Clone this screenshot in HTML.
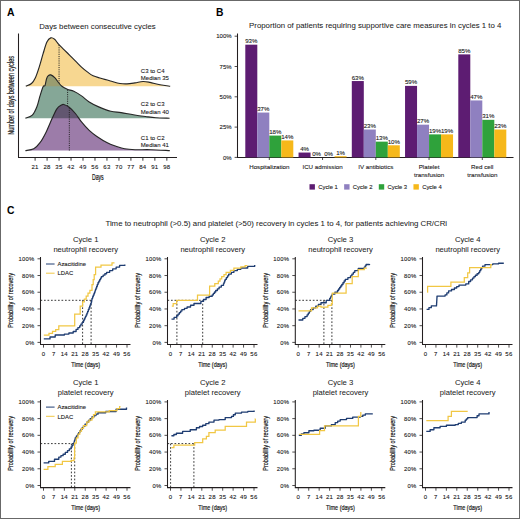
<!DOCTYPE html>
<html><head><meta charset="utf-8"><style>
html,body{margin:0;padding:0;background:#fff;}
body{width:520px;height:519px;overflow:hidden;}
svg{display:block;font-family:"Liberation Sans", sans-serif;}
</style></head><body>
<svg width="520" height="519" viewBox="0 0 520 519">
<rect x="0" y="0" width="520" height="519" fill="#fff"/>
<text x="7" y="15.6" font-size="10.4" text-anchor="start" font-weight="bold" fill="#000"  >A</text>
<text x="39.2" y="28.5" font-size="7.8" text-anchor="start" font-weight="normal" fill="#1a1a1a" stroke="#1a1a1a" stroke-width="0.04" >Days between consecutive cycles</text>
<defs>
<clipPath id="cy"><rect x="0" y="0" width="200" height="86.2"/></clipPath>
<clipPath id="cg"><rect x="0" y="0" width="200" height="118.2"/></clipPath>
</defs>
<path d="M25.8,86.2 C26.75,85.75 29.9,84.92 31.5,83.5 C33.1,82.08 34.12,80.43 35.4,77.7 C36.68,74.97 37.92,71.1 39.2,67.1 C40.48,63.1 41.82,57.87 43.1,53.7 C44.38,49.53 45.62,44.73 46.9,42.1 C48.18,39.47 49.52,38.37 50.8,37.9 C52.08,37.43 53.32,38.27 54.6,39.3 C55.88,40.33 56.9,42.35 58.5,44.1 C60.1,45.85 62.28,47.88 64.2,49.8 C66.12,51.72 68.07,53.67 70,55.6 C71.93,57.53 73.88,59.48 75.8,61.4 C77.72,63.32 79.58,65.35 81.5,67.1 C83.42,68.85 85.37,70.45 87.3,71.9 C89.23,73.35 90.85,74.73 93.1,75.8 C95.35,76.87 97.92,77.43 100.8,78.3 C103.68,79.17 107.2,80.13 110.4,81 C113.6,81.87 117.23,83.02 120,83.5 C122.77,83.98 124.5,84 127,83.9 C129.5,83.8 132.33,83.3 135,82.9 C137.67,82.5 140.5,81.58 143,81.5 C145.5,81.42 147.17,81.85 150,82.4 C152.83,82.95 156.63,84.17 160,84.8 C163.37,85.43 168.5,85.97 170.2,86.2 V86.2 H25.8 Z" fill="#f7d791"/>
<path d="M25.8,86.2 C26.75,85.75 29.9,84.92 31.5,83.5 C33.1,82.08 34.12,80.43 35.4,77.7 C36.68,74.97 37.92,71.1 39.2,67.1 C40.48,63.1 41.82,57.87 43.1,53.7 C44.38,49.53 45.62,44.73 46.9,42.1 C48.18,39.47 49.52,38.37 50.8,37.9 C52.08,37.43 53.32,38.27 54.6,39.3 C55.88,40.33 56.9,42.35 58.5,44.1 C60.1,45.85 62.28,47.88 64.2,49.8 C66.12,51.72 68.07,53.67 70,55.6 C71.93,57.53 73.88,59.48 75.8,61.4 C77.72,63.32 79.58,65.35 81.5,67.1 C83.42,68.85 85.37,70.45 87.3,71.9 C89.23,73.35 90.85,74.73 93.1,75.8 C95.35,76.87 97.92,77.43 100.8,78.3 C103.68,79.17 107.2,80.13 110.4,81 C113.6,81.87 117.23,83.02 120,83.5 C122.77,83.98 124.5,84 127,83.9 C129.5,83.8 132.33,83.3 135,82.9 C137.67,82.5 140.5,81.58 143,81.5 C145.5,81.42 147.17,81.85 150,82.4 C152.83,82.95 156.63,84.17 160,84.8 C163.37,85.43 168.5,85.97 170.2,86.2" fill="none" stroke="#262626" stroke-width="1.15"/>
<line x1="59.05" y1="45" x2="59.05" y2="86.2" stroke="#222" stroke-width="0.95" stroke-dasharray="1.1,1.1"/>
<path d="M25.4,118.2 C26.55,117.68 30.38,117.02 32.3,115.1 C34.22,113.18 35.62,109.9 36.9,106.7 C38.18,103.5 38.97,99.23 40,95.9 C41.03,92.57 42.27,88.43 43.1,86.7 C43.93,84.97 44.43,86.78 45,85.5 C45.57,84.22 45.98,80.6 46.5,79 C47.02,77.4 47.38,76.58 48.1,75.9 C48.82,75.22 49.65,74.58 50.8,74.9 C51.95,75.22 53.78,76.62 55,77.8 C56.22,78.98 56.95,80.58 58.1,82 C59.25,83.42 60.37,85.08 61.9,86.3 C63.43,87.52 65.32,88.47 67.3,89.3 C69.28,90.13 71.43,90.2 73.8,91.3 C76.17,92.4 78.93,94.12 81.5,95.9 C84.07,97.68 86.33,100.17 89.2,102 C92.07,103.83 95.1,105.35 98.7,106.9 C102.3,108.45 107.07,110.35 110.8,111.3 C114.53,112.25 117.35,112.03 121.1,112.6 C124.85,113.17 129.25,114.05 133.3,114.7 C137.35,115.35 141.67,115.98 145.4,116.5 C149.13,117.02 151.67,117.52 155.7,117.8 C159.73,118.08 167.28,118.13 169.6,118.2 V118.2 H25.4 Z" fill="#85a797"/>
<path d="M25.4,118.2 C26.55,117.68 30.38,117.02 32.3,115.1 C34.22,113.18 35.62,109.9 36.9,106.7 C38.18,103.5 38.97,99.23 40,95.9 C41.03,92.57 42.27,88.43 43.1,86.7 C43.93,84.97 44.43,86.78 45,85.5 C45.57,84.22 45.98,80.6 46.5,79 C47.02,77.4 47.38,76.58 48.1,75.9 C48.82,75.22 49.65,74.58 50.8,74.9 C51.95,75.22 53.78,76.62 55,77.8 C56.22,78.98 56.95,80.58 58.1,82 C59.25,83.42 60.37,85.08 61.9,86.3 C63.43,87.52 65.32,88.47 67.3,89.3 C69.28,90.13 71.43,90.2 73.8,91.3 C76.17,92.4 78.93,94.12 81.5,95.9 C84.07,97.68 86.33,100.17 89.2,102 C92.07,103.83 95.1,105.35 98.7,106.9 C102.3,108.45 107.07,110.35 110.8,111.3 C114.53,112.25 117.35,112.03 121.1,112.6 C124.85,113.17 129.25,114.05 133.3,114.7 C137.35,115.35 141.67,115.98 145.4,116.5 C149.13,117.02 151.67,117.52 155.7,117.8 C159.73,118.08 167.28,118.13 169.6,118.2 V118.2 H25.4 Z" fill="#9a9d70" clip-path="url(#cy)"/>
<path d="M25.4,118.2 C26.55,117.68 30.38,117.02 32.3,115.1 C34.22,113.18 35.62,109.9 36.9,106.7 C38.18,103.5 38.97,99.23 40,95.9 C41.03,92.57 42.27,88.43 43.1,86.7 C43.93,84.97 44.43,86.78 45,85.5 C45.57,84.22 45.98,80.6 46.5,79 C47.02,77.4 47.38,76.58 48.1,75.9 C48.82,75.22 49.65,74.58 50.8,74.9 C51.95,75.22 53.78,76.62 55,77.8 C56.22,78.98 56.95,80.58 58.1,82 C59.25,83.42 60.37,85.08 61.9,86.3 C63.43,87.52 65.32,88.47 67.3,89.3 C69.28,90.13 71.43,90.2 73.8,91.3 C76.17,92.4 78.93,94.12 81.5,95.9 C84.07,97.68 86.33,100.17 89.2,102 C92.07,103.83 95.1,105.35 98.7,106.9 C102.3,108.45 107.07,110.35 110.8,111.3 C114.53,112.25 117.35,112.03 121.1,112.6 C124.85,113.17 129.25,114.05 133.3,114.7 C137.35,115.35 141.67,115.98 145.4,116.5 C149.13,117.02 151.67,117.52 155.7,117.8 C159.73,118.08 167.28,118.13 169.6,118.2" fill="none" stroke="#262626" stroke-width="1.15"/>
<line x1="67.61" y1="89.7" x2="67.61" y2="118.2" stroke="#222" stroke-width="0.95" stroke-dasharray="1.1,1.1"/>
<path d="M25.4,150.6 C26.8,150.3 31.37,150.12 33.8,148.8 C36.23,147.48 37.93,145.52 40,142.7 C42.07,139.88 44.15,136 46.2,131.9 C48.25,127.8 50.52,121.95 52.3,118.1 C54.08,114.25 55.37,110.98 56.9,108.8 C58.43,106.62 60.35,105.72 61.5,105 C62.65,104.28 62.52,104.12 63.8,104.5 C65.08,104.88 67.27,105.8 69.2,107.3 C71.13,108.8 73.35,111.07 75.4,113.5 C77.45,115.93 79.2,119.08 81.5,121.9 C83.8,124.72 86.63,127.97 89.2,130.4 C91.77,132.83 93.88,134.43 96.9,136.5 C99.92,138.57 104.12,141.18 107.3,142.8 C110.48,144.42 113.12,145.2 116,146.2 C118.88,147.2 121.43,148.22 124.6,148.8 C127.77,149.38 130.67,149.55 135,149.7 C139.33,149.85 144.8,149.55 150.6,149.7 C156.4,149.85 166.6,150.45 169.8,150.6 V150.6 H25.4 Z" fill="#9c7ca9"/>
<path d="M25.4,150.6 C26.8,150.3 31.37,150.12 33.8,148.8 C36.23,147.48 37.93,145.52 40,142.7 C42.07,139.88 44.15,136 46.2,131.9 C48.25,127.8 50.52,121.95 52.3,118.1 C54.08,114.25 55.37,110.98 56.9,108.8 C58.43,106.62 60.35,105.72 61.5,105 C62.65,104.28 62.52,104.12 63.8,104.5 C65.08,104.88 67.27,105.8 69.2,107.3 C71.13,108.8 73.35,111.07 75.4,113.5 C77.45,115.93 79.2,119.08 81.5,121.9 C83.8,124.72 86.63,127.97 89.2,130.4 C91.77,132.83 93.88,134.43 96.9,136.5 C99.92,138.57 104.12,141.18 107.3,142.8 C110.48,144.42 113.12,145.2 116,146.2 C118.88,147.2 121.43,148.22 124.6,148.8 C127.77,149.38 130.67,149.55 135,149.7 C139.33,149.85 144.8,149.55 150.6,149.7 C156.4,149.85 166.6,150.45 169.8,150.6 V150.6 H25.4 Z" fill="#625670" clip-path="url(#cg)"/>
<path d="M25.4,150.6 C26.8,150.3 31.37,150.12 33.8,148.8 C36.23,147.48 37.93,145.52 40,142.7 C42.07,139.88 44.15,136 46.2,131.9 C48.25,127.8 50.52,121.95 52.3,118.1 C54.08,114.25 55.37,110.98 56.9,108.8 C58.43,106.62 60.35,105.72 61.5,105 C62.65,104.28 62.52,104.12 63.8,104.5 C65.08,104.88 67.27,105.8 69.2,107.3 C71.13,108.8 73.35,111.07 75.4,113.5 C77.45,115.93 79.2,119.08 81.5,121.9 C83.8,124.72 86.63,127.97 89.2,130.4 C91.77,132.83 93.88,134.43 96.9,136.5 C99.92,138.57 104.12,141.18 107.3,142.8 C110.48,144.42 113.12,145.2 116,146.2 C118.88,147.2 121.43,148.22 124.6,148.8 C127.77,149.38 130.67,149.55 135,149.7 C139.33,149.85 144.8,149.55 150.6,149.7 C156.4,149.85 166.6,150.45 169.8,150.6" fill="none" stroke="#262626" stroke-width="1.15"/>
<line x1="69.32" y1="107.6" x2="69.32" y2="150.6" stroke="#222" stroke-width="0.95" stroke-dasharray="1.1,1.1"/>
<text x="140.8" y="72.5" font-size="6" text-anchor="start" font-weight="normal" fill="#1a1a1a" stroke="#1a1a1a" stroke-width="0.1" >C3 to C4</text>
<text x="140.8" y="79.7" font-size="6" text-anchor="start" font-weight="normal" fill="#1a1a1a" stroke="#1a1a1a" stroke-width="0.1" >Median 35</text>
<text x="140.8" y="106.4" font-size="6" text-anchor="start" font-weight="normal" fill="#1a1a1a" stroke="#1a1a1a" stroke-width="0.1" >C2 to C3</text>
<text x="140.8" y="113.6" font-size="6" text-anchor="start" font-weight="normal" fill="#1a1a1a" stroke="#1a1a1a" stroke-width="0.1" >Median 40</text>
<text x="140.8" y="139.7" font-size="6" text-anchor="start" font-weight="normal" fill="#1a1a1a" stroke="#1a1a1a" stroke-width="0.1" >C1 to C2</text>
<text x="140.8" y="146.9" font-size="6" text-anchor="start" font-weight="normal" fill="#1a1a1a" stroke="#1a1a1a" stroke-width="0.1" >Median 41</text>
<path d="M18.5,33.5 V157.5 H177" fill="none" stroke="#231f20" stroke-width="1.05"/>
<line x1="35.1" y1="157.7" x2="35.1" y2="160.7" stroke="#231f20" stroke-width="0.9"/>
<text x="35.1" y="168.9" font-size="6" text-anchor="middle" font-weight="normal" fill="#1a1a1a" stroke="#1a1a1a" stroke-width="0.1" letter-spacing="0.35">21</text>
<line x1="47.08" y1="157.7" x2="47.08" y2="160.7" stroke="#231f20" stroke-width="0.9"/>
<text x="47.08" y="168.9" font-size="6" text-anchor="middle" font-weight="normal" fill="#1a1a1a" stroke="#1a1a1a" stroke-width="0.1" letter-spacing="0.35">28</text>
<line x1="59.05" y1="157.7" x2="59.05" y2="160.7" stroke="#231f20" stroke-width="0.9"/>
<text x="59.05" y="168.9" font-size="6" text-anchor="middle" font-weight="normal" fill="#1a1a1a" stroke="#1a1a1a" stroke-width="0.1" letter-spacing="0.35">35</text>
<line x1="71.03" y1="157.7" x2="71.03" y2="160.7" stroke="#231f20" stroke-width="0.9"/>
<text x="71.03" y="168.9" font-size="6" text-anchor="middle" font-weight="normal" fill="#1a1a1a" stroke="#1a1a1a" stroke-width="0.1" letter-spacing="0.35">42</text>
<line x1="83.01" y1="157.7" x2="83.01" y2="160.7" stroke="#231f20" stroke-width="0.9"/>
<text x="83.01" y="168.9" font-size="6" text-anchor="middle" font-weight="normal" fill="#1a1a1a" stroke="#1a1a1a" stroke-width="0.1" letter-spacing="0.35">49</text>
<line x1="94.99" y1="157.7" x2="94.99" y2="160.7" stroke="#231f20" stroke-width="0.9"/>
<text x="94.99" y="168.9" font-size="6" text-anchor="middle" font-weight="normal" fill="#1a1a1a" stroke="#1a1a1a" stroke-width="0.1" letter-spacing="0.35">56</text>
<line x1="106.96" y1="157.7" x2="106.96" y2="160.7" stroke="#231f20" stroke-width="0.9"/>
<text x="106.96" y="168.9" font-size="6" text-anchor="middle" font-weight="normal" fill="#1a1a1a" stroke="#1a1a1a" stroke-width="0.1" letter-spacing="0.35">63</text>
<line x1="118.94" y1="157.7" x2="118.94" y2="160.7" stroke="#231f20" stroke-width="0.9"/>
<text x="118.94" y="168.9" font-size="6" text-anchor="middle" font-weight="normal" fill="#1a1a1a" stroke="#1a1a1a" stroke-width="0.1" letter-spacing="0.35">70</text>
<line x1="130.92" y1="157.7" x2="130.92" y2="160.7" stroke="#231f20" stroke-width="0.9"/>
<text x="130.92" y="168.9" font-size="6" text-anchor="middle" font-weight="normal" fill="#1a1a1a" stroke="#1a1a1a" stroke-width="0.1" letter-spacing="0.35">77</text>
<line x1="142.89" y1="157.7" x2="142.89" y2="160.7" stroke="#231f20" stroke-width="0.9"/>
<text x="142.89" y="168.9" font-size="6" text-anchor="middle" font-weight="normal" fill="#1a1a1a" stroke="#1a1a1a" stroke-width="0.1" letter-spacing="0.35">84</text>
<line x1="154.87" y1="157.7" x2="154.87" y2="160.7" stroke="#231f20" stroke-width="0.9"/>
<text x="154.87" y="168.9" font-size="6" text-anchor="middle" font-weight="normal" fill="#1a1a1a" stroke="#1a1a1a" stroke-width="0.1" letter-spacing="0.35">91</text>
<line x1="166.85" y1="157.7" x2="166.85" y2="160.7" stroke="#231f20" stroke-width="0.9"/>
<text x="166.85" y="168.9" font-size="6" text-anchor="middle" font-weight="normal" fill="#1a1a1a" stroke="#1a1a1a" stroke-width="0.1" letter-spacing="0.35">98</text>
<text x="97.8" y="180.2" font-size="8.2" text-anchor="middle" font-weight="normal" fill="#1a1a1a"  stroke="#1a1a1a" stroke-width="0.22" textLength="11.8" lengthAdjust="spacingAndGlyphs">Days</text>
<text x="0" y="0" font-size="8.2" font-weight="normal" stroke="#1a1a1a" stroke-width="0.22" text-anchor="middle" fill="#1a1a1a" transform="translate(14,95.4) rotate(-90)" textLength="78.8" lengthAdjust="spacingAndGlyphs">Number of days between cycles</text>
<text x="216" y="15.6" font-size="10.3" text-anchor="start" font-weight="bold" fill="#000"  >B</text>
<text x="249.1" y="28.4" font-size="7.8" text-anchor="start" font-weight="normal" fill="#1a1a1a" stroke="#1a1a1a" stroke-width="0.04" >Proportion of patients requiring supportive care measures in cycles 1 to 4</text>
<path d="M237.5,33.5 V157.5 H513.5" fill="none" stroke="#231f20" stroke-width="1.05"/>
<line x1="234.6" y1="157.4" x2="237.3" y2="157.4" stroke="#231f20" stroke-width="0.8"/>
<text x="231.6" y="159.5" font-size="6" text-anchor="end" font-weight="normal" fill="#1a1a1a" stroke="#1a1a1a" stroke-width="0.1" >0%</text>
<line x1="234.6" y1="127.1" x2="237.3" y2="127.1" stroke="#231f20" stroke-width="0.8"/>
<text x="231.6" y="129.2" font-size="6" text-anchor="end" font-weight="normal" fill="#1a1a1a" stroke="#1a1a1a" stroke-width="0.1" >25%</text>
<line x1="234.6" y1="96.8" x2="237.3" y2="96.8" stroke="#231f20" stroke-width="0.8"/>
<text x="231.6" y="98.9" font-size="6" text-anchor="end" font-weight="normal" fill="#1a1a1a" stroke="#1a1a1a" stroke-width="0.1" >50%</text>
<line x1="234.6" y1="66.5" x2="237.3" y2="66.5" stroke="#231f20" stroke-width="0.8"/>
<text x="231.6" y="68.6" font-size="6" text-anchor="end" font-weight="normal" fill="#1a1a1a" stroke="#1a1a1a" stroke-width="0.1" >75%</text>
<line x1="234.6" y1="36.2" x2="237.3" y2="36.2" stroke="#231f20" stroke-width="0.8"/>
<text x="231.6" y="38.3" font-size="6" text-anchor="end" font-weight="normal" fill="#1a1a1a" stroke="#1a1a1a" stroke-width="0.1" >100%</text>
<rect x="245.3" y="44.68" width="12" height="112.72" fill="#5d1c72"/>
<text x="251.3" y="43.18" font-size="6.1" text-anchor="middle" font-weight="normal" fill="#1a1a1a" stroke="#1a1a1a" stroke-width="0.1" >93%</text>
<rect x="257.3" y="112.56" width="12" height="44.84" fill="#8f80c0"/>
<text x="263.3" y="111.06" font-size="6.1" text-anchor="middle" font-weight="normal" fill="#1a1a1a" stroke="#1a1a1a" stroke-width="0.1" >37%</text>
<rect x="269.3" y="135.58" width="12" height="21.82" fill="#2fa23b"/>
<text x="275.3" y="134.08" font-size="6.1" text-anchor="middle" font-weight="normal" fill="#1a1a1a" stroke="#1a1a1a" stroke-width="0.1" >18%</text>
<rect x="281.3" y="140.43" width="12" height="16.97" fill="#f6b81a"/>
<text x="287.3" y="138.93" font-size="6.1" text-anchor="middle" font-weight="normal" fill="#1a1a1a" stroke="#1a1a1a" stroke-width="0.1" >14%</text>
<line x1="269.3" y1="157.6" x2="269.3" y2="160" stroke="#231f20" stroke-width="0.8"/>
<text x="269.3" y="168.8" font-size="6.2" text-anchor="middle" font-weight="normal" fill="#1a1a1a" stroke="#1a1a1a" stroke-width="0.1" >Hospitalization</text>
<rect x="298.55" y="152.55" width="12" height="4.85" fill="#5d1c72"/>
<text x="304.55" y="151.05" font-size="6.1" text-anchor="middle" font-weight="normal" fill="#1a1a1a" stroke="#1a1a1a" stroke-width="0.1" >4%</text>
<text x="316.55" y="155.9" font-size="6.1" text-anchor="middle" font-weight="normal" fill="#1a1a1a" stroke="#1a1a1a" stroke-width="0.1" >0%</text>
<text x="328.55" y="155.9" font-size="6.1" text-anchor="middle" font-weight="normal" fill="#1a1a1a" stroke="#1a1a1a" stroke-width="0.1" >0%</text>
<rect x="334.55" y="156.19" width="12" height="1.21" fill="#f6b81a"/>
<text x="340.55" y="154.69" font-size="6.1" text-anchor="middle" font-weight="normal" fill="#1a1a1a" stroke="#1a1a1a" stroke-width="0.1" >1%</text>
<line x1="322.55" y1="157.6" x2="322.55" y2="160" stroke="#231f20" stroke-width="0.8"/>
<text x="322.55" y="168.8" font-size="6.2" text-anchor="middle" font-weight="normal" fill="#1a1a1a" stroke="#1a1a1a" stroke-width="0.1" >ICU admission</text>
<rect x="351.8" y="81.04" width="12" height="76.36" fill="#5d1c72"/>
<text x="357.8" y="79.54" font-size="6.1" text-anchor="middle" font-weight="normal" fill="#1a1a1a" stroke="#1a1a1a" stroke-width="0.1" >63%</text>
<rect x="363.8" y="129.52" width="12" height="27.88" fill="#8f80c0"/>
<text x="369.8" y="128.02" font-size="6.1" text-anchor="middle" font-weight="normal" fill="#1a1a1a" stroke="#1a1a1a" stroke-width="0.1" >23%</text>
<rect x="375.8" y="141.64" width="12" height="15.76" fill="#2fa23b"/>
<text x="381.8" y="140.14" font-size="6.1" text-anchor="middle" font-weight="normal" fill="#1a1a1a" stroke="#1a1a1a" stroke-width="0.1" >13%</text>
<rect x="387.8" y="145.28" width="12" height="12.12" fill="#f6b81a"/>
<text x="393.8" y="143.78" font-size="6.1" text-anchor="middle" font-weight="normal" fill="#1a1a1a" stroke="#1a1a1a" stroke-width="0.1" >10%</text>
<line x1="375.8" y1="157.6" x2="375.8" y2="160" stroke="#231f20" stroke-width="0.8"/>
<text x="375.8" y="168.8" font-size="6.2" text-anchor="middle" font-weight="normal" fill="#1a1a1a" stroke="#1a1a1a" stroke-width="0.1" >IV antibiotics</text>
<rect x="405.05" y="85.89" width="12" height="71.51" fill="#5d1c72"/>
<text x="411.05" y="84.39" font-size="6.1" text-anchor="middle" font-weight="normal" fill="#1a1a1a" stroke="#1a1a1a" stroke-width="0.1" >59%</text>
<rect x="417.05" y="124.68" width="12" height="32.72" fill="#8f80c0"/>
<text x="423.05" y="123.18" font-size="6.1" text-anchor="middle" font-weight="normal" fill="#1a1a1a" stroke="#1a1a1a" stroke-width="0.1" >27%</text>
<rect x="429.05" y="134.37" width="12" height="23.03" fill="#2fa23b"/>
<text x="435.05" y="132.87" font-size="6.1" text-anchor="middle" font-weight="normal" fill="#1a1a1a" stroke="#1a1a1a" stroke-width="0.1" >19%</text>
<rect x="441.05" y="134.37" width="12" height="23.03" fill="#f6b81a"/>
<text x="447.05" y="132.87" font-size="6.1" text-anchor="middle" font-weight="normal" fill="#1a1a1a" stroke="#1a1a1a" stroke-width="0.1" >19%</text>
<line x1="429.05" y1="157.6" x2="429.05" y2="160" stroke="#231f20" stroke-width="0.8"/>
<text x="429.05" y="168.8" font-size="6.2" text-anchor="middle" font-weight="normal" fill="#1a1a1a" stroke="#1a1a1a" stroke-width="0.1" >Platelet</text>
<text x="429.05" y="176.8" font-size="6.2" text-anchor="middle" font-weight="normal" fill="#1a1a1a" stroke="#1a1a1a" stroke-width="0.1" >transfusion</text>
<rect x="458.3" y="54.38" width="12" height="103.02" fill="#5d1c72"/>
<text x="464.3" y="52.88" font-size="6.1" text-anchor="middle" font-weight="normal" fill="#1a1a1a" stroke="#1a1a1a" stroke-width="0.1" >85%</text>
<rect x="470.3" y="100.44" width="12" height="56.96" fill="#8f80c0"/>
<text x="476.3" y="98.94" font-size="6.1" text-anchor="middle" font-weight="normal" fill="#1a1a1a" stroke="#1a1a1a" stroke-width="0.1" >47%</text>
<rect x="482.3" y="119.83" width="12" height="37.57" fill="#2fa23b"/>
<text x="488.3" y="118.33" font-size="6.1" text-anchor="middle" font-weight="normal" fill="#1a1a1a" stroke="#1a1a1a" stroke-width="0.1" >31%</text>
<rect x="494.3" y="129.52" width="12" height="27.88" fill="#f6b81a"/>
<text x="500.3" y="128.02" font-size="6.1" text-anchor="middle" font-weight="normal" fill="#1a1a1a" stroke="#1a1a1a" stroke-width="0.1" >23%</text>
<line x1="482.3" y1="157.6" x2="482.3" y2="160" stroke="#231f20" stroke-width="0.8"/>
<text x="482.3" y="168.8" font-size="6.2" text-anchor="middle" font-weight="normal" fill="#1a1a1a" stroke="#1a1a1a" stroke-width="0.1" >Red cell</text>
<text x="482.3" y="176.8" font-size="6.2" text-anchor="middle" font-weight="normal" fill="#1a1a1a" stroke="#1a1a1a" stroke-width="0.1" >transfusion</text>
<rect x="309.5" y="184.2" width="5.4" height="5.4" fill="#5d1c72"/>
<text x="318.2" y="189" font-size="5.9" text-anchor="start" font-weight="normal" fill="#1a1a1a" stroke="#1a1a1a" stroke-width="0.1" >Cycle 1</text>
<rect x="344.15" y="184.2" width="5.4" height="5.4" fill="#8f80c0"/>
<text x="352.85" y="189" font-size="5.9" text-anchor="start" font-weight="normal" fill="#1a1a1a" stroke="#1a1a1a" stroke-width="0.1" >Cycle 2</text>
<rect x="378.8" y="184.2" width="5.4" height="5.4" fill="#2fa23b"/>
<text x="387.5" y="189" font-size="5.9" text-anchor="start" font-weight="normal" fill="#1a1a1a" stroke="#1a1a1a" stroke-width="0.1" >Cycle 3</text>
<rect x="413.45" y="184.2" width="5.4" height="5.4" fill="#f6b81a"/>
<text x="422.15" y="189" font-size="5.9" text-anchor="start" font-weight="normal" fill="#1a1a1a" stroke="#1a1a1a" stroke-width="0.1" >Cycle 4</text>
<text x="6.9" y="214.1" font-size="10.3" text-anchor="start" font-weight="bold" fill="#000"  >C</text>
<text x="105.4" y="226.3" font-size="7.84" text-anchor="start" font-weight="normal" fill="#1a1a1a" stroke="#1a1a1a" stroke-width="0.04" >Time to neutrophil (&gt;0.5) and platelet (&gt;50) recovery in cycles 1 to 4, for patients achieving CR/CRi</text>
<text x="85.7" y="242.1" font-size="7.7" text-anchor="middle" font-weight="normal" fill="#1a1a1a" stroke="#1a1a1a" stroke-width="0.04" >Cycle 1</text>
<text x="85.7" y="251.5" font-size="7.6" text-anchor="middle" font-weight="normal" fill="#1a1a1a" stroke="#1a1a1a" stroke-width="0.04" >neutrophil recovery</text>
<path d="M40.5,300.3 H91.1" stroke="#222" stroke-width="0.9" stroke-dasharray="1.7,1.8" fill="none"/>
<path d="M82.6,300.3 V344" stroke="#222" stroke-width="0.9" stroke-dasharray="1.7,1.8" fill="none"/>
<path d="M91.1,300.3 V344" stroke="#222" stroke-width="0.9" stroke-dasharray="1.7,1.8" fill="none"/>
<path d="M43.8,338.9 H50 V337 H55.2 V335 H64.4 V334.1 H68.9 V333 H73.2 V331.5 H76.1 V329.4 H77.9 V327.6 H79.7 V325.8 H80.93 V324.1 H82.17 V322.4 H83.4 V320.7 H84.1 V319.25 H84.8 V317.8 H85.5 V316.35 H86.2 V314.9 H86.92 V313.1 H87.65 V311.3 H88.38 V309.5 H89.1 V307.7 H89.65 V306.25 H90.2 V304.8 H90.75 V303.35 H91.3 V301.9 H91.65 V300.1 H92 V298.3 H92.62 V296.77 H93.25 V295.25 H93.88 V293.73 H94.5 V292.2 H95 V290.8 H95.5 V289.4 H96 V288 H96.67 V286.23 H97.33 V284.47 H98 V282.7 H98.85 V281.18 H99.7 V279.65 H100.55 V278.12 H101.4 V276.6 H103.13 V275.17 H104.87 V273.73 H106.6 V272.3 H109.65 V270.55 H112.7 V268.8 H116.15 V267.1 H119.6 V265.4 H124.8 V264.5" fill="none" stroke="#1f3d72" stroke-width="1.35" stroke-linejoin="round"/>
<path d="M43.8,335.1 H49 V333.3 H52.5 V331.4 H55.7 V329.5 H58.8 V325.8 H74.7 V314.2 H80.2 V306 H82.6 V301.9 H84.4 V299 H86.2 V296.1 H88 V293.2 H89.9 V290.3 H92 V284.6 H93.2 V279.5 H94.2 V274.5 H95.6 V267.2 H101 V265 H112 V262.8 H114.5" fill="none" stroke="#f1c744" stroke-width="1.25"/>
<path d="M40.5,256.9 V344.5 H130.5" fill="none" stroke="#231f20" stroke-width="1.05"/>
<line x1="37.5" y1="342.4" x2="40.5" y2="342.4" stroke="#231f20" stroke-width="0.8"/>
<text x="34.5" y="344.5" font-size="5.9" text-anchor="end" font-weight="normal" fill="#1a1a1a" stroke="#1a1a1a" stroke-width="0.1" letter-spacing="0.25">0%</text>
<line x1="37.5" y1="325.68" x2="40.5" y2="325.68" stroke="#231f20" stroke-width="0.8"/>
<text x="34.5" y="327.78" font-size="5.9" text-anchor="end" font-weight="normal" fill="#1a1a1a" stroke="#1a1a1a" stroke-width="0.1" letter-spacing="0.25">20%</text>
<line x1="37.5" y1="308.96" x2="40.5" y2="308.96" stroke="#231f20" stroke-width="0.8"/>
<text x="34.5" y="311.06" font-size="5.9" text-anchor="end" font-weight="normal" fill="#1a1a1a" stroke="#1a1a1a" stroke-width="0.1" letter-spacing="0.25">40%</text>
<line x1="37.5" y1="292.24" x2="40.5" y2="292.24" stroke="#231f20" stroke-width="0.8"/>
<text x="34.5" y="294.34" font-size="5.9" text-anchor="end" font-weight="normal" fill="#1a1a1a" stroke="#1a1a1a" stroke-width="0.1" letter-spacing="0.25">60%</text>
<line x1="37.5" y1="275.52" x2="40.5" y2="275.52" stroke="#231f20" stroke-width="0.8"/>
<text x="34.5" y="277.62" font-size="5.9" text-anchor="end" font-weight="normal" fill="#1a1a1a" stroke="#1a1a1a" stroke-width="0.1" letter-spacing="0.25">80%</text>
<line x1="37.5" y1="258.8" x2="40.5" y2="258.8" stroke="#231f20" stroke-width="0.8"/>
<text x="34.5" y="260.9" font-size="5.9" text-anchor="end" font-weight="normal" fill="#1a1a1a" stroke="#1a1a1a" stroke-width="0.1" letter-spacing="0.25">100%</text>
<line x1="43.5" y1="344.5" x2="43.5" y2="347.6" stroke="#231f20" stroke-width="0.8"/>
<text x="43.5" y="356.3" font-size="6" text-anchor="middle" font-weight="normal" fill="#1a1a1a" stroke="#1a1a1a" stroke-width="0.1" letter-spacing="0.3">0</text>
<line x1="53.94" y1="344.5" x2="53.94" y2="347.6" stroke="#231f20" stroke-width="0.8"/>
<text x="53.94" y="356.3" font-size="6" text-anchor="middle" font-weight="normal" fill="#1a1a1a" stroke="#1a1a1a" stroke-width="0.1" letter-spacing="0.3">7</text>
<line x1="64.37" y1="344.5" x2="64.37" y2="347.6" stroke="#231f20" stroke-width="0.8"/>
<text x="64.37" y="356.3" font-size="6" text-anchor="middle" font-weight="normal" fill="#1a1a1a" stroke="#1a1a1a" stroke-width="0.1" letter-spacing="0.3">14</text>
<line x1="74.81" y1="344.5" x2="74.81" y2="347.6" stroke="#231f20" stroke-width="0.8"/>
<text x="74.81" y="356.3" font-size="6" text-anchor="middle" font-weight="normal" fill="#1a1a1a" stroke="#1a1a1a" stroke-width="0.1" letter-spacing="0.3">21</text>
<line x1="85.25" y1="344.5" x2="85.25" y2="347.6" stroke="#231f20" stroke-width="0.8"/>
<text x="85.25" y="356.3" font-size="6" text-anchor="middle" font-weight="normal" fill="#1a1a1a" stroke="#1a1a1a" stroke-width="0.1" letter-spacing="0.3">28</text>
<line x1="95.69" y1="344.5" x2="95.69" y2="347.6" stroke="#231f20" stroke-width="0.8"/>
<text x="95.69" y="356.3" font-size="6" text-anchor="middle" font-weight="normal" fill="#1a1a1a" stroke="#1a1a1a" stroke-width="0.1" letter-spacing="0.3">35</text>
<line x1="106.12" y1="344.5" x2="106.12" y2="347.6" stroke="#231f20" stroke-width="0.8"/>
<text x="106.12" y="356.3" font-size="6" text-anchor="middle" font-weight="normal" fill="#1a1a1a" stroke="#1a1a1a" stroke-width="0.1" letter-spacing="0.3">42</text>
<line x1="116.56" y1="344.5" x2="116.56" y2="347.6" stroke="#231f20" stroke-width="0.8"/>
<text x="116.56" y="356.3" font-size="6" text-anchor="middle" font-weight="normal" fill="#1a1a1a" stroke="#1a1a1a" stroke-width="0.1" letter-spacing="0.3">49</text>
<line x1="127" y1="344.5" x2="127" y2="347.6" stroke="#231f20" stroke-width="0.8"/>
<text x="127" y="356.3" font-size="6" text-anchor="middle" font-weight="normal" fill="#1a1a1a" stroke="#1a1a1a" stroke-width="0.1" letter-spacing="0.3">56</text>
<text x="85.7" y="367" font-size="7.8" font-weight="normal" stroke="#1a1a1a" stroke-width="0.22" text-anchor="middle" fill="#1a1a1a" textLength="28.8" lengthAdjust="spacingAndGlyphs">Time (days)</text>
<text x="0" y="0" font-size="7.6" font-weight="normal" stroke="#1a1a1a" stroke-width="0.22" text-anchor="middle" fill="#1a1a1a" transform="translate(12.9,300.3) rotate(-90)" textLength="54.7" lengthAdjust="spacingAndGlyphs">Probability of recovery</text>
<line x1="46" y1="264" x2="54.6" y2="264" stroke="#1f3d72" stroke-width="1"/>
<text x="57.5" y="266.1" font-size="5.9" text-anchor="start" font-weight="normal" fill="#1a1a1a" stroke="#1a1a1a" stroke-width="0.1" >Azacitidine</text>
<line x1="46" y1="273.2" x2="54.6" y2="273.2" stroke="#f1c744" stroke-width="1"/>
<text x="57.5" y="275.4" font-size="5.9" text-anchor="start" font-weight="normal" fill="#1a1a1a" stroke="#1a1a1a" stroke-width="0.1" >LDAC</text>
<text x="212.7" y="242.1" font-size="7.7" text-anchor="middle" font-weight="normal" fill="#1a1a1a" stroke="#1a1a1a" stroke-width="0.04" >Cycle 2</text>
<text x="212.7" y="251.5" font-size="7.6" text-anchor="middle" font-weight="normal" fill="#1a1a1a" stroke="#1a1a1a" stroke-width="0.04" >neutrophil recovery</text>
<path d="M167.5,300.3 H202.7" stroke="#222" stroke-width="0.9" stroke-dasharray="1.7,1.8" fill="none"/>
<path d="M176.9,300.3 V344" stroke="#222" stroke-width="0.9" stroke-dasharray="1.7,1.8" fill="none"/>
<path d="M202.7,300.3 V344" stroke="#222" stroke-width="0.9" stroke-dasharray="1.7,1.8" fill="none"/>
<path d="M171.5,319.1 H174.1 V317.4 H176.7 V315.7 H178 V314.18 H179.3 V312.65 H180.6 V311.12 H181.9 V309.6 H184.5 V308.3 H187.1 V307 H190.55 V305.25 H194 V303.5 H200.9 V301.4 H203.5 V299.45 H206.1 V297.5 H209.15 V296.2 H212.2 V294.9 H213.37 V293.43 H214.53 V291.97 H215.7 V290.5 H217.4 V288.8 H219.1 V287.1 H221.3 V285.35 H223.5 V283.6 H224.07 V282.17 H224.63 V280.73 H225.2 V279.3 H226.37 V277.57 H227.53 V275.83 H228.7 V274.1 H231.3 V272.35 H233.9 V270.6 H237.35 V269.3 H240.8 V268 H247.7 V266.3 H254.7 V265.1" fill="none" stroke="#1f3d72" stroke-width="1.35" stroke-linejoin="round"/>
<path d="M171.8,306.1 H173.2 V303.5 H176.7 V300.4 H197.5 V295.2 H209.6 V286.2 H213.1 V286.2 H214.8 V283.6 H218.3 V281 H220 V278.8 H221.7 V276.7 H224 V274.5 H226.1 V272.3 H230.4 V270.3 H233.9 V268 H240.8 V266.8 H245.1 V265.7 H247.5" fill="none" stroke="#f1c744" stroke-width="1.25"/>
<path d="M167.5,256.9 V344.5 H257.5" fill="none" stroke="#231f20" stroke-width="1.05"/>
<line x1="164.5" y1="342.4" x2="167.5" y2="342.4" stroke="#231f20" stroke-width="0.8"/>
<text x="161.5" y="344.5" font-size="5.9" text-anchor="end" font-weight="normal" fill="#1a1a1a" stroke="#1a1a1a" stroke-width="0.1" letter-spacing="0.25">0%</text>
<line x1="164.5" y1="325.68" x2="167.5" y2="325.68" stroke="#231f20" stroke-width="0.8"/>
<text x="161.5" y="327.78" font-size="5.9" text-anchor="end" font-weight="normal" fill="#1a1a1a" stroke="#1a1a1a" stroke-width="0.1" letter-spacing="0.25">20%</text>
<line x1="164.5" y1="308.96" x2="167.5" y2="308.96" stroke="#231f20" stroke-width="0.8"/>
<text x="161.5" y="311.06" font-size="5.9" text-anchor="end" font-weight="normal" fill="#1a1a1a" stroke="#1a1a1a" stroke-width="0.1" letter-spacing="0.25">40%</text>
<line x1="164.5" y1="292.24" x2="167.5" y2="292.24" stroke="#231f20" stroke-width="0.8"/>
<text x="161.5" y="294.34" font-size="5.9" text-anchor="end" font-weight="normal" fill="#1a1a1a" stroke="#1a1a1a" stroke-width="0.1" letter-spacing="0.25">60%</text>
<line x1="164.5" y1="275.52" x2="167.5" y2="275.52" stroke="#231f20" stroke-width="0.8"/>
<text x="161.5" y="277.62" font-size="5.9" text-anchor="end" font-weight="normal" fill="#1a1a1a" stroke="#1a1a1a" stroke-width="0.1" letter-spacing="0.25">80%</text>
<line x1="164.5" y1="258.8" x2="167.5" y2="258.8" stroke="#231f20" stroke-width="0.8"/>
<text x="161.5" y="260.9" font-size="5.9" text-anchor="end" font-weight="normal" fill="#1a1a1a" stroke="#1a1a1a" stroke-width="0.1" letter-spacing="0.25">100%</text>
<line x1="170.5" y1="344.5" x2="170.5" y2="347.6" stroke="#231f20" stroke-width="0.8"/>
<text x="170.5" y="356.3" font-size="6" text-anchor="middle" font-weight="normal" fill="#1a1a1a" stroke="#1a1a1a" stroke-width="0.1" letter-spacing="0.3">0</text>
<line x1="180.94" y1="344.5" x2="180.94" y2="347.6" stroke="#231f20" stroke-width="0.8"/>
<text x="180.94" y="356.3" font-size="6" text-anchor="middle" font-weight="normal" fill="#1a1a1a" stroke="#1a1a1a" stroke-width="0.1" letter-spacing="0.3">7</text>
<line x1="191.37" y1="344.5" x2="191.37" y2="347.6" stroke="#231f20" stroke-width="0.8"/>
<text x="191.37" y="356.3" font-size="6" text-anchor="middle" font-weight="normal" fill="#1a1a1a" stroke="#1a1a1a" stroke-width="0.1" letter-spacing="0.3">14</text>
<line x1="201.81" y1="344.5" x2="201.81" y2="347.6" stroke="#231f20" stroke-width="0.8"/>
<text x="201.81" y="356.3" font-size="6" text-anchor="middle" font-weight="normal" fill="#1a1a1a" stroke="#1a1a1a" stroke-width="0.1" letter-spacing="0.3">21</text>
<line x1="212.25" y1="344.5" x2="212.25" y2="347.6" stroke="#231f20" stroke-width="0.8"/>
<text x="212.25" y="356.3" font-size="6" text-anchor="middle" font-weight="normal" fill="#1a1a1a" stroke="#1a1a1a" stroke-width="0.1" letter-spacing="0.3">28</text>
<line x1="222.69" y1="344.5" x2="222.69" y2="347.6" stroke="#231f20" stroke-width="0.8"/>
<text x="222.69" y="356.3" font-size="6" text-anchor="middle" font-weight="normal" fill="#1a1a1a" stroke="#1a1a1a" stroke-width="0.1" letter-spacing="0.3">35</text>
<line x1="233.12" y1="344.5" x2="233.12" y2="347.6" stroke="#231f20" stroke-width="0.8"/>
<text x="233.12" y="356.3" font-size="6" text-anchor="middle" font-weight="normal" fill="#1a1a1a" stroke="#1a1a1a" stroke-width="0.1" letter-spacing="0.3">42</text>
<line x1="243.56" y1="344.5" x2="243.56" y2="347.6" stroke="#231f20" stroke-width="0.8"/>
<text x="243.56" y="356.3" font-size="6" text-anchor="middle" font-weight="normal" fill="#1a1a1a" stroke="#1a1a1a" stroke-width="0.1" letter-spacing="0.3">49</text>
<line x1="254" y1="344.5" x2="254" y2="347.6" stroke="#231f20" stroke-width="0.8"/>
<text x="254" y="356.3" font-size="6" text-anchor="middle" font-weight="normal" fill="#1a1a1a" stroke="#1a1a1a" stroke-width="0.1" letter-spacing="0.3">56</text>
<text x="212.7" y="367" font-size="7.8" font-weight="normal" stroke="#1a1a1a" stroke-width="0.22" text-anchor="middle" fill="#1a1a1a" textLength="28.8" lengthAdjust="spacingAndGlyphs">Time (days)</text>
<text x="0" y="0" font-size="7.6" font-weight="normal" stroke="#1a1a1a" stroke-width="0.22" text-anchor="middle" fill="#1a1a1a" transform="translate(139.9,300.3) rotate(-90)" textLength="54.7" lengthAdjust="spacingAndGlyphs">Probability of recovery</text>
<text x="340.5" y="242.1" font-size="7.7" text-anchor="middle" font-weight="normal" fill="#1a1a1a" stroke="#1a1a1a" stroke-width="0.04" >Cycle 3</text>
<text x="340.5" y="251.5" font-size="7.6" text-anchor="middle" font-weight="normal" fill="#1a1a1a" stroke="#1a1a1a" stroke-width="0.04" >neutrophil recovery</text>
<path d="M295.3,300.3 H331.9" stroke="#222" stroke-width="0.9" stroke-dasharray="1.7,1.8" fill="none"/>
<path d="M323.9,300.3 V344" stroke="#222" stroke-width="0.9" stroke-dasharray="1.7,1.8" fill="none"/>
<path d="M331.9,300.3 V344" stroke="#222" stroke-width="0.9" stroke-dasharray="1.7,1.8" fill="none"/>
<path d="M298.5,320 H302.8 V318.3 H304.95 V316.55 H307.1 V314.8 H308.27 V313.07 H309.43 V311.33 H310.6 V309.6 H313.2 V307.85 H315.8 V306.1 H318.4 V304.4 H321 V302.7 H326.2 V300.4 H329.7 V298.3 H330.57 V296.87 H331.43 V295.43 H332.3 V294 H334.9 V292.25 H337.5 V290.5 H338.57 V289 H339.65 V287.5 H340.73 V286 H341.8 V284.5 H342.97 V282.77 H344.13 V281.03 H345.3 V279.3 H347.9 V277.55 H350.5 V275.8 H351.93 V274.07 H353.37 V272.33 H354.8 V270.6 H358.3 V268.5 H364.3 V267.1 H365.2 V265.8 H366.1 V264.5 H369.5 V264" fill="none" stroke="#1f3d72" stroke-width="1.35" stroke-linejoin="round"/>
<path d="M298.5,310.8 H311.5 V307.9 H317.5 V306.1 H321 V307 H327.9 V305.3 H331.4 V303.5 H332.3 V293.1 H346.1 V283.6 H352.2 V276.7 H358.3 V269.7 H364.3 V268 H366.9" fill="none" stroke="#f1c744" stroke-width="1.25"/>
<path d="M295.3,256.9 V344.5 H385.3" fill="none" stroke="#231f20" stroke-width="1.05"/>
<line x1="292.3" y1="342.4" x2="295.3" y2="342.4" stroke="#231f20" stroke-width="0.8"/>
<text x="289.3" y="344.5" font-size="5.9" text-anchor="end" font-weight="normal" fill="#1a1a1a" stroke="#1a1a1a" stroke-width="0.1" letter-spacing="0.25">0%</text>
<line x1="292.3" y1="325.68" x2="295.3" y2="325.68" stroke="#231f20" stroke-width="0.8"/>
<text x="289.3" y="327.78" font-size="5.9" text-anchor="end" font-weight="normal" fill="#1a1a1a" stroke="#1a1a1a" stroke-width="0.1" letter-spacing="0.25">20%</text>
<line x1="292.3" y1="308.96" x2="295.3" y2="308.96" stroke="#231f20" stroke-width="0.8"/>
<text x="289.3" y="311.06" font-size="5.9" text-anchor="end" font-weight="normal" fill="#1a1a1a" stroke="#1a1a1a" stroke-width="0.1" letter-spacing="0.25">40%</text>
<line x1="292.3" y1="292.24" x2="295.3" y2="292.24" stroke="#231f20" stroke-width="0.8"/>
<text x="289.3" y="294.34" font-size="5.9" text-anchor="end" font-weight="normal" fill="#1a1a1a" stroke="#1a1a1a" stroke-width="0.1" letter-spacing="0.25">60%</text>
<line x1="292.3" y1="275.52" x2="295.3" y2="275.52" stroke="#231f20" stroke-width="0.8"/>
<text x="289.3" y="277.62" font-size="5.9" text-anchor="end" font-weight="normal" fill="#1a1a1a" stroke="#1a1a1a" stroke-width="0.1" letter-spacing="0.25">80%</text>
<line x1="292.3" y1="258.8" x2="295.3" y2="258.8" stroke="#231f20" stroke-width="0.8"/>
<text x="289.3" y="260.9" font-size="5.9" text-anchor="end" font-weight="normal" fill="#1a1a1a" stroke="#1a1a1a" stroke-width="0.1" letter-spacing="0.25">100%</text>
<line x1="298.3" y1="344.5" x2="298.3" y2="347.6" stroke="#231f20" stroke-width="0.8"/>
<text x="298.3" y="356.3" font-size="6" text-anchor="middle" font-weight="normal" fill="#1a1a1a" stroke="#1a1a1a" stroke-width="0.1" letter-spacing="0.3">0</text>
<line x1="308.74" y1="344.5" x2="308.74" y2="347.6" stroke="#231f20" stroke-width="0.8"/>
<text x="308.74" y="356.3" font-size="6" text-anchor="middle" font-weight="normal" fill="#1a1a1a" stroke="#1a1a1a" stroke-width="0.1" letter-spacing="0.3">7</text>
<line x1="319.17" y1="344.5" x2="319.17" y2="347.6" stroke="#231f20" stroke-width="0.8"/>
<text x="319.17" y="356.3" font-size="6" text-anchor="middle" font-weight="normal" fill="#1a1a1a" stroke="#1a1a1a" stroke-width="0.1" letter-spacing="0.3">14</text>
<line x1="329.61" y1="344.5" x2="329.61" y2="347.6" stroke="#231f20" stroke-width="0.8"/>
<text x="329.61" y="356.3" font-size="6" text-anchor="middle" font-weight="normal" fill="#1a1a1a" stroke="#1a1a1a" stroke-width="0.1" letter-spacing="0.3">21</text>
<line x1="340.05" y1="344.5" x2="340.05" y2="347.6" stroke="#231f20" stroke-width="0.8"/>
<text x="340.05" y="356.3" font-size="6" text-anchor="middle" font-weight="normal" fill="#1a1a1a" stroke="#1a1a1a" stroke-width="0.1" letter-spacing="0.3">28</text>
<line x1="350.49" y1="344.5" x2="350.49" y2="347.6" stroke="#231f20" stroke-width="0.8"/>
<text x="350.49" y="356.3" font-size="6" text-anchor="middle" font-weight="normal" fill="#1a1a1a" stroke="#1a1a1a" stroke-width="0.1" letter-spacing="0.3">35</text>
<line x1="360.92" y1="344.5" x2="360.92" y2="347.6" stroke="#231f20" stroke-width="0.8"/>
<text x="360.92" y="356.3" font-size="6" text-anchor="middle" font-weight="normal" fill="#1a1a1a" stroke="#1a1a1a" stroke-width="0.1" letter-spacing="0.3">42</text>
<line x1="371.36" y1="344.5" x2="371.36" y2="347.6" stroke="#231f20" stroke-width="0.8"/>
<text x="371.36" y="356.3" font-size="6" text-anchor="middle" font-weight="normal" fill="#1a1a1a" stroke="#1a1a1a" stroke-width="0.1" letter-spacing="0.3">49</text>
<line x1="381.8" y1="344.5" x2="381.8" y2="347.6" stroke="#231f20" stroke-width="0.8"/>
<text x="381.8" y="356.3" font-size="6" text-anchor="middle" font-weight="normal" fill="#1a1a1a" stroke="#1a1a1a" stroke-width="0.1" letter-spacing="0.3">56</text>
<text x="340.5" y="367" font-size="7.8" font-weight="normal" stroke="#1a1a1a" stroke-width="0.22" text-anchor="middle" fill="#1a1a1a" textLength="28.8" lengthAdjust="spacingAndGlyphs">Time (days)</text>
<text x="0" y="0" font-size="7.6" font-weight="normal" stroke="#1a1a1a" stroke-width="0.22" text-anchor="middle" fill="#1a1a1a" transform="translate(267.7,300.3) rotate(-90)" textLength="54.7" lengthAdjust="spacingAndGlyphs">Probability of recovery</text>
<text x="467.7" y="242.1" font-size="7.7" text-anchor="middle" font-weight="normal" fill="#1a1a1a" stroke="#1a1a1a" stroke-width="0.04" >Cycle 4</text>
<text x="467.7" y="251.5" font-size="7.6" text-anchor="middle" font-weight="normal" fill="#1a1a1a" stroke="#1a1a1a" stroke-width="0.04" >neutrophil recovery</text>
<path d="M426.6,309.4 H428.95 V307.65 H431.3 V305.9 H436.5 V304.8 H436.6 V303.06 H436.7 V301.32 H436.8 V299.58 H436.9 V297.84 H437 V296.1 H445.1 V294.9 H446.85 V292.9 H448.6 V290.9 H451.5 V289.45 H454.4 V288 H456.7 V286.55 H459 V285.1 H465.8 V283.9 H468.7 V281.5 H470.6 V279.8 H472.5 V278.1 H473.95 V276.65 H475.4 V275.2 H477.1 V273.75 H478.8 V272.3 H479.75 V270.65 H480.7 V269 H481.65 V267.55 H482.6 V266.1 H485 V264.6 H490.8 V264.6 H492.8 V263.9 H498.5 V263.2 H503.8 V263.2" fill="none" stroke="#1f3d72" stroke-width="1.35" stroke-linejoin="round"/>
<path d="M427.1,292 H427.6 V286.4 H450.9 V282.2 H464.3 V277.6 H467.7 V272.8 H469.6 V267.5 H490.8 V264.6 H492" fill="none" stroke="#f1c744" stroke-width="1.25"/>
<path d="M422.5,256.9 V344.5 H512.5" fill="none" stroke="#231f20" stroke-width="1.05"/>
<line x1="419.5" y1="342.4" x2="422.5" y2="342.4" stroke="#231f20" stroke-width="0.8"/>
<text x="416.5" y="344.5" font-size="5.9" text-anchor="end" font-weight="normal" fill="#1a1a1a" stroke="#1a1a1a" stroke-width="0.1" letter-spacing="0.25">0%</text>
<line x1="419.5" y1="325.68" x2="422.5" y2="325.68" stroke="#231f20" stroke-width="0.8"/>
<text x="416.5" y="327.78" font-size="5.9" text-anchor="end" font-weight="normal" fill="#1a1a1a" stroke="#1a1a1a" stroke-width="0.1" letter-spacing="0.25">20%</text>
<line x1="419.5" y1="308.96" x2="422.5" y2="308.96" stroke="#231f20" stroke-width="0.8"/>
<text x="416.5" y="311.06" font-size="5.9" text-anchor="end" font-weight="normal" fill="#1a1a1a" stroke="#1a1a1a" stroke-width="0.1" letter-spacing="0.25">40%</text>
<line x1="419.5" y1="292.24" x2="422.5" y2="292.24" stroke="#231f20" stroke-width="0.8"/>
<text x="416.5" y="294.34" font-size="5.9" text-anchor="end" font-weight="normal" fill="#1a1a1a" stroke="#1a1a1a" stroke-width="0.1" letter-spacing="0.25">60%</text>
<line x1="419.5" y1="275.52" x2="422.5" y2="275.52" stroke="#231f20" stroke-width="0.8"/>
<text x="416.5" y="277.62" font-size="5.9" text-anchor="end" font-weight="normal" fill="#1a1a1a" stroke="#1a1a1a" stroke-width="0.1" letter-spacing="0.25">80%</text>
<line x1="419.5" y1="258.8" x2="422.5" y2="258.8" stroke="#231f20" stroke-width="0.8"/>
<text x="416.5" y="260.9" font-size="5.9" text-anchor="end" font-weight="normal" fill="#1a1a1a" stroke="#1a1a1a" stroke-width="0.1" letter-spacing="0.25">100%</text>
<line x1="425.5" y1="344.5" x2="425.5" y2="347.6" stroke="#231f20" stroke-width="0.8"/>
<text x="425.5" y="356.3" font-size="6" text-anchor="middle" font-weight="normal" fill="#1a1a1a" stroke="#1a1a1a" stroke-width="0.1" letter-spacing="0.3">0</text>
<line x1="435.94" y1="344.5" x2="435.94" y2="347.6" stroke="#231f20" stroke-width="0.8"/>
<text x="435.94" y="356.3" font-size="6" text-anchor="middle" font-weight="normal" fill="#1a1a1a" stroke="#1a1a1a" stroke-width="0.1" letter-spacing="0.3">7</text>
<line x1="446.37" y1="344.5" x2="446.37" y2="347.6" stroke="#231f20" stroke-width="0.8"/>
<text x="446.37" y="356.3" font-size="6" text-anchor="middle" font-weight="normal" fill="#1a1a1a" stroke="#1a1a1a" stroke-width="0.1" letter-spacing="0.3">14</text>
<line x1="456.81" y1="344.5" x2="456.81" y2="347.6" stroke="#231f20" stroke-width="0.8"/>
<text x="456.81" y="356.3" font-size="6" text-anchor="middle" font-weight="normal" fill="#1a1a1a" stroke="#1a1a1a" stroke-width="0.1" letter-spacing="0.3">21</text>
<line x1="467.25" y1="344.5" x2="467.25" y2="347.6" stroke="#231f20" stroke-width="0.8"/>
<text x="467.25" y="356.3" font-size="6" text-anchor="middle" font-weight="normal" fill="#1a1a1a" stroke="#1a1a1a" stroke-width="0.1" letter-spacing="0.3">28</text>
<line x1="477.69" y1="344.5" x2="477.69" y2="347.6" stroke="#231f20" stroke-width="0.8"/>
<text x="477.69" y="356.3" font-size="6" text-anchor="middle" font-weight="normal" fill="#1a1a1a" stroke="#1a1a1a" stroke-width="0.1" letter-spacing="0.3">35</text>
<line x1="488.12" y1="344.5" x2="488.12" y2="347.6" stroke="#231f20" stroke-width="0.8"/>
<text x="488.12" y="356.3" font-size="6" text-anchor="middle" font-weight="normal" fill="#1a1a1a" stroke="#1a1a1a" stroke-width="0.1" letter-spacing="0.3">42</text>
<line x1="498.56" y1="344.5" x2="498.56" y2="347.6" stroke="#231f20" stroke-width="0.8"/>
<text x="498.56" y="356.3" font-size="6" text-anchor="middle" font-weight="normal" fill="#1a1a1a" stroke="#1a1a1a" stroke-width="0.1" letter-spacing="0.3">49</text>
<line x1="509" y1="344.5" x2="509" y2="347.6" stroke="#231f20" stroke-width="0.8"/>
<text x="509" y="356.3" font-size="6" text-anchor="middle" font-weight="normal" fill="#1a1a1a" stroke="#1a1a1a" stroke-width="0.1" letter-spacing="0.3">56</text>
<text x="467.7" y="367" font-size="7.8" font-weight="normal" stroke="#1a1a1a" stroke-width="0.22" text-anchor="middle" fill="#1a1a1a" textLength="28.8" lengthAdjust="spacingAndGlyphs">Time (days)</text>
<text x="0" y="0" font-size="7.6" font-weight="normal" stroke="#1a1a1a" stroke-width="0.22" text-anchor="middle" fill="#1a1a1a" transform="translate(394.9,300.3) rotate(-90)" textLength="54.7" lengthAdjust="spacingAndGlyphs">Probability of recovery</text>
<text x="85.7" y="385.2" font-size="7.7" text-anchor="middle" font-weight="normal" fill="#1a1a1a" stroke="#1a1a1a" stroke-width="0.04" >Cycle 1</text>
<text x="85.7" y="394.6" font-size="7.6" text-anchor="middle" font-weight="normal" fill="#1a1a1a" stroke="#1a1a1a" stroke-width="0.04" >platelet recovery</text>
<path d="M40.5,443.6 H74.7" stroke="#222" stroke-width="0.9" stroke-dasharray="1.7,1.8" fill="none"/>
<path d="M71.4,443.6 V487.1" stroke="#222" stroke-width="0.9" stroke-dasharray="1.7,1.8" fill="none"/>
<path d="M74.7,443.6 V487.1" stroke="#222" stroke-width="0.9" stroke-dasharray="1.7,1.8" fill="none"/>
<path d="M43.6,462.9 H48.7 V461.4 H54.5 V459.2 H58.8 V457.1 H60.95 V455.65 H63.1 V454.2 H65.3 V452.4 H67.5 V450.6 H69.3 V448.8 H71.1 V447 H72.07 V445.3 H73.03 V443.6 H74 V441.9 H74.47 V440.43 H74.93 V438.97 H75.4 V437.5 H76.5 V435.85 H77.6 V434.2 H78.7 V432.55 H79.8 V430.9 H81 V429.27 H82.2 V427.63 H83.4 V426 H85.05 V424.1 H86.7 V422.2 H88.43 V420.47 H90.17 V418.73 H91.9 V417 H93.93 V415.57 H95.97 V414.13 H98 V412.7 H105.7 V411.5 H116.1 V409.2 H126.5 V407.5" fill="none" stroke="#1f3d72" stroke-width="1.35" stroke-linejoin="round"/>
<path d="M43.6,469.4 H47.9 V466.5 H55.2 V464.3 H62.4 V461.4 H71.1 V460.7 H74 V457.8 H74.6 V443 H76.3 V437.8 H78 V434 H79.8 V431 H81.5 V428.3 H83.5 V425.5 H86.7 V422.2 H89 V420 H91.9 V417.9 H93.5 V414.5 H95.4 V411.8 H109.2 V410.5 H117 V408.5 H119.6 V406.7 H120.5" fill="none" stroke="#f1c744" stroke-width="1.25"/>
<path d="M40.5,400 V487.6 H130.5" fill="none" stroke="#231f20" stroke-width="1.05"/>
<line x1="37.5" y1="485.5" x2="40.5" y2="485.5" stroke="#231f20" stroke-width="0.8"/>
<text x="34.5" y="487.6" font-size="5.9" text-anchor="end" font-weight="normal" fill="#1a1a1a" stroke="#1a1a1a" stroke-width="0.1" letter-spacing="0.25">0%</text>
<line x1="37.5" y1="468.78" x2="40.5" y2="468.78" stroke="#231f20" stroke-width="0.8"/>
<text x="34.5" y="470.88" font-size="5.9" text-anchor="end" font-weight="normal" fill="#1a1a1a" stroke="#1a1a1a" stroke-width="0.1" letter-spacing="0.25">20%</text>
<line x1="37.5" y1="452.06" x2="40.5" y2="452.06" stroke="#231f20" stroke-width="0.8"/>
<text x="34.5" y="454.16" font-size="5.9" text-anchor="end" font-weight="normal" fill="#1a1a1a" stroke="#1a1a1a" stroke-width="0.1" letter-spacing="0.25">40%</text>
<line x1="37.5" y1="435.34" x2="40.5" y2="435.34" stroke="#231f20" stroke-width="0.8"/>
<text x="34.5" y="437.44" font-size="5.9" text-anchor="end" font-weight="normal" fill="#1a1a1a" stroke="#1a1a1a" stroke-width="0.1" letter-spacing="0.25">60%</text>
<line x1="37.5" y1="418.62" x2="40.5" y2="418.62" stroke="#231f20" stroke-width="0.8"/>
<text x="34.5" y="420.72" font-size="5.9" text-anchor="end" font-weight="normal" fill="#1a1a1a" stroke="#1a1a1a" stroke-width="0.1" letter-spacing="0.25">80%</text>
<line x1="37.5" y1="401.9" x2="40.5" y2="401.9" stroke="#231f20" stroke-width="0.8"/>
<text x="34.5" y="404" font-size="5.9" text-anchor="end" font-weight="normal" fill="#1a1a1a" stroke="#1a1a1a" stroke-width="0.1" letter-spacing="0.25">100%</text>
<line x1="43.5" y1="487.6" x2="43.5" y2="490.7" stroke="#231f20" stroke-width="0.8"/>
<text x="43.5" y="499.4" font-size="6" text-anchor="middle" font-weight="normal" fill="#1a1a1a" stroke="#1a1a1a" stroke-width="0.1" letter-spacing="0.3">0</text>
<line x1="53.94" y1="487.6" x2="53.94" y2="490.7" stroke="#231f20" stroke-width="0.8"/>
<text x="53.94" y="499.4" font-size="6" text-anchor="middle" font-weight="normal" fill="#1a1a1a" stroke="#1a1a1a" stroke-width="0.1" letter-spacing="0.3">7</text>
<line x1="64.37" y1="487.6" x2="64.37" y2="490.7" stroke="#231f20" stroke-width="0.8"/>
<text x="64.37" y="499.4" font-size="6" text-anchor="middle" font-weight="normal" fill="#1a1a1a" stroke="#1a1a1a" stroke-width="0.1" letter-spacing="0.3">14</text>
<line x1="74.81" y1="487.6" x2="74.81" y2="490.7" stroke="#231f20" stroke-width="0.8"/>
<text x="74.81" y="499.4" font-size="6" text-anchor="middle" font-weight="normal" fill="#1a1a1a" stroke="#1a1a1a" stroke-width="0.1" letter-spacing="0.3">21</text>
<line x1="85.25" y1="487.6" x2="85.25" y2="490.7" stroke="#231f20" stroke-width="0.8"/>
<text x="85.25" y="499.4" font-size="6" text-anchor="middle" font-weight="normal" fill="#1a1a1a" stroke="#1a1a1a" stroke-width="0.1" letter-spacing="0.3">28</text>
<line x1="95.69" y1="487.6" x2="95.69" y2="490.7" stroke="#231f20" stroke-width="0.8"/>
<text x="95.69" y="499.4" font-size="6" text-anchor="middle" font-weight="normal" fill="#1a1a1a" stroke="#1a1a1a" stroke-width="0.1" letter-spacing="0.3">35</text>
<line x1="106.12" y1="487.6" x2="106.12" y2="490.7" stroke="#231f20" stroke-width="0.8"/>
<text x="106.12" y="499.4" font-size="6" text-anchor="middle" font-weight="normal" fill="#1a1a1a" stroke="#1a1a1a" stroke-width="0.1" letter-spacing="0.3">42</text>
<line x1="116.56" y1="487.6" x2="116.56" y2="490.7" stroke="#231f20" stroke-width="0.8"/>
<text x="116.56" y="499.4" font-size="6" text-anchor="middle" font-weight="normal" fill="#1a1a1a" stroke="#1a1a1a" stroke-width="0.1" letter-spacing="0.3">49</text>
<line x1="127" y1="487.6" x2="127" y2="490.7" stroke="#231f20" stroke-width="0.8"/>
<text x="127" y="499.4" font-size="6" text-anchor="middle" font-weight="normal" fill="#1a1a1a" stroke="#1a1a1a" stroke-width="0.1" letter-spacing="0.3">56</text>
<text x="85.7" y="510.1" font-size="7.8" font-weight="normal" stroke="#1a1a1a" stroke-width="0.22" text-anchor="middle" fill="#1a1a1a" textLength="28.8" lengthAdjust="spacingAndGlyphs">Time (days)</text>
<text x="0" y="0" font-size="7.6" font-weight="normal" stroke="#1a1a1a" stroke-width="0.22" text-anchor="middle" fill="#1a1a1a" transform="translate(12.9,443.4) rotate(-90)" textLength="54.7" lengthAdjust="spacingAndGlyphs">Probability of recovery</text>
<line x1="46" y1="407.1" x2="54.6" y2="407.1" stroke="#1f3d72" stroke-width="1"/>
<text x="57.5" y="409.2" font-size="5.9" text-anchor="start" font-weight="normal" fill="#1a1a1a" stroke="#1a1a1a" stroke-width="0.1" >Azacitidine</text>
<line x1="46" y1="416.3" x2="54.6" y2="416.3" stroke="#f1c744" stroke-width="1"/>
<text x="57.5" y="418.5" font-size="5.9" text-anchor="start" font-weight="normal" fill="#1a1a1a" stroke="#1a1a1a" stroke-width="0.1" >LDAC</text>
<text x="212.7" y="385.2" font-size="7.7" text-anchor="middle" font-weight="normal" fill="#1a1a1a" stroke="#1a1a1a" stroke-width="0.04" >Cycle 2</text>
<text x="212.7" y="394.6" font-size="7.6" text-anchor="middle" font-weight="normal" fill="#1a1a1a" stroke="#1a1a1a" stroke-width="0.04" >platelet recovery</text>
<path d="M167.5,443.6 H193.9" stroke="#222" stroke-width="0.9" stroke-dasharray="1.7,1.8" fill="none"/>
<path d="M170.6,443.6 V487.1" stroke="#222" stroke-width="0.9" stroke-dasharray="1.7,1.8" fill="none"/>
<path d="M193.9,443.6 V487.1" stroke="#222" stroke-width="0.9" stroke-dasharray="1.7,1.8" fill="none"/>
<path d="M171.4,435.7 H173.9 V434.45 H176.4 V433.2 H182.6 V431.4 H190.2 V429.7 H196.4 V427.7 H199.55 V426.45 H202.7 V425.2 H205.8 V423.65 H208.9 V422.1 H214 V420.1 H219 V419.6 H225.2 V417.6 H231.5 V416.4 H233.4 V414.75 H235.3 V413.1 H241.5 V412.1 H247.8 V411.4 H254.1 V410.6" fill="none" stroke="#1f3d72" stroke-width="1.35" stroke-linejoin="round"/>
<path d="M171.4,447.7 H173.9 V445.2 H194.7 V442.7 H202.7 V438.9 H206.4 V436.4 H208.9 V432.7 H215.2 V430.2 H225.2 V426.4 H246.5 V422.1 H255.3 V418.9 H255.5" fill="none" stroke="#f1c744" stroke-width="1.25"/>
<path d="M167.5,400 V487.6 H257.5" fill="none" stroke="#231f20" stroke-width="1.05"/>
<line x1="164.5" y1="485.5" x2="167.5" y2="485.5" stroke="#231f20" stroke-width="0.8"/>
<text x="161.5" y="487.6" font-size="5.9" text-anchor="end" font-weight="normal" fill="#1a1a1a" stroke="#1a1a1a" stroke-width="0.1" letter-spacing="0.25">0%</text>
<line x1="164.5" y1="468.78" x2="167.5" y2="468.78" stroke="#231f20" stroke-width="0.8"/>
<text x="161.5" y="470.88" font-size="5.9" text-anchor="end" font-weight="normal" fill="#1a1a1a" stroke="#1a1a1a" stroke-width="0.1" letter-spacing="0.25">20%</text>
<line x1="164.5" y1="452.06" x2="167.5" y2="452.06" stroke="#231f20" stroke-width="0.8"/>
<text x="161.5" y="454.16" font-size="5.9" text-anchor="end" font-weight="normal" fill="#1a1a1a" stroke="#1a1a1a" stroke-width="0.1" letter-spacing="0.25">40%</text>
<line x1="164.5" y1="435.34" x2="167.5" y2="435.34" stroke="#231f20" stroke-width="0.8"/>
<text x="161.5" y="437.44" font-size="5.9" text-anchor="end" font-weight="normal" fill="#1a1a1a" stroke="#1a1a1a" stroke-width="0.1" letter-spacing="0.25">60%</text>
<line x1="164.5" y1="418.62" x2="167.5" y2="418.62" stroke="#231f20" stroke-width="0.8"/>
<text x="161.5" y="420.72" font-size="5.9" text-anchor="end" font-weight="normal" fill="#1a1a1a" stroke="#1a1a1a" stroke-width="0.1" letter-spacing="0.25">80%</text>
<line x1="164.5" y1="401.9" x2="167.5" y2="401.9" stroke="#231f20" stroke-width="0.8"/>
<text x="161.5" y="404" font-size="5.9" text-anchor="end" font-weight="normal" fill="#1a1a1a" stroke="#1a1a1a" stroke-width="0.1" letter-spacing="0.25">100%</text>
<line x1="170.5" y1="487.6" x2="170.5" y2="490.7" stroke="#231f20" stroke-width="0.8"/>
<text x="170.5" y="499.4" font-size="6" text-anchor="middle" font-weight="normal" fill="#1a1a1a" stroke="#1a1a1a" stroke-width="0.1" letter-spacing="0.3">0</text>
<line x1="180.94" y1="487.6" x2="180.94" y2="490.7" stroke="#231f20" stroke-width="0.8"/>
<text x="180.94" y="499.4" font-size="6" text-anchor="middle" font-weight="normal" fill="#1a1a1a" stroke="#1a1a1a" stroke-width="0.1" letter-spacing="0.3">7</text>
<line x1="191.37" y1="487.6" x2="191.37" y2="490.7" stroke="#231f20" stroke-width="0.8"/>
<text x="191.37" y="499.4" font-size="6" text-anchor="middle" font-weight="normal" fill="#1a1a1a" stroke="#1a1a1a" stroke-width="0.1" letter-spacing="0.3">14</text>
<line x1="201.81" y1="487.6" x2="201.81" y2="490.7" stroke="#231f20" stroke-width="0.8"/>
<text x="201.81" y="499.4" font-size="6" text-anchor="middle" font-weight="normal" fill="#1a1a1a" stroke="#1a1a1a" stroke-width="0.1" letter-spacing="0.3">21</text>
<line x1="212.25" y1="487.6" x2="212.25" y2="490.7" stroke="#231f20" stroke-width="0.8"/>
<text x="212.25" y="499.4" font-size="6" text-anchor="middle" font-weight="normal" fill="#1a1a1a" stroke="#1a1a1a" stroke-width="0.1" letter-spacing="0.3">28</text>
<line x1="222.69" y1="487.6" x2="222.69" y2="490.7" stroke="#231f20" stroke-width="0.8"/>
<text x="222.69" y="499.4" font-size="6" text-anchor="middle" font-weight="normal" fill="#1a1a1a" stroke="#1a1a1a" stroke-width="0.1" letter-spacing="0.3">35</text>
<line x1="233.12" y1="487.6" x2="233.12" y2="490.7" stroke="#231f20" stroke-width="0.8"/>
<text x="233.12" y="499.4" font-size="6" text-anchor="middle" font-weight="normal" fill="#1a1a1a" stroke="#1a1a1a" stroke-width="0.1" letter-spacing="0.3">42</text>
<line x1="243.56" y1="487.6" x2="243.56" y2="490.7" stroke="#231f20" stroke-width="0.8"/>
<text x="243.56" y="499.4" font-size="6" text-anchor="middle" font-weight="normal" fill="#1a1a1a" stroke="#1a1a1a" stroke-width="0.1" letter-spacing="0.3">49</text>
<line x1="254" y1="487.6" x2="254" y2="490.7" stroke="#231f20" stroke-width="0.8"/>
<text x="254" y="499.4" font-size="6" text-anchor="middle" font-weight="normal" fill="#1a1a1a" stroke="#1a1a1a" stroke-width="0.1" letter-spacing="0.3">56</text>
<text x="212.7" y="510.1" font-size="7.8" font-weight="normal" stroke="#1a1a1a" stroke-width="0.22" text-anchor="middle" fill="#1a1a1a" textLength="28.8" lengthAdjust="spacingAndGlyphs">Time (days)</text>
<text x="0" y="0" font-size="7.6" font-weight="normal" stroke="#1a1a1a" stroke-width="0.22" text-anchor="middle" fill="#1a1a1a" transform="translate(139.9,443.4) rotate(-90)" textLength="54.7" lengthAdjust="spacingAndGlyphs">Probability of recovery</text>
<text x="340.5" y="385.2" font-size="7.7" text-anchor="middle" font-weight="normal" fill="#1a1a1a" stroke="#1a1a1a" stroke-width="0.04" >Cycle 3</text>
<text x="340.5" y="394.6" font-size="7.6" text-anchor="middle" font-weight="normal" fill="#1a1a1a" stroke="#1a1a1a" stroke-width="0.04" >platelet recovery</text>
<path d="M298.8,435.2 H301.35 V433.95 H303.9 V432.7 H308.9 V430.7 H313.9 V430.2 H320.2 V428.2 H325.2 V425.9 H331.4 V424.6 H335.2 V422.6 H337.7 V421.1 H340.2 V419.6 H346.5 V418.4 H352.7 V417.1 H360.3 V416.4 H362.8 V415.15 H365.3 V413.9 H372.8 V413.9" fill="none" stroke="#1f3d72" stroke-width="1.35" stroke-linejoin="round"/>
<path d="M299.2,434.4 H319.6 V430.6 H324.5 V425.8 H358.4 V416.3 H360.8 V411.9 H360.8" fill="none" stroke="#f1c744" stroke-width="1.25"/>
<path d="M295.3,400 V487.6 H385.3" fill="none" stroke="#231f20" stroke-width="1.05"/>
<line x1="292.3" y1="485.5" x2="295.3" y2="485.5" stroke="#231f20" stroke-width="0.8"/>
<text x="289.3" y="487.6" font-size="5.9" text-anchor="end" font-weight="normal" fill="#1a1a1a" stroke="#1a1a1a" stroke-width="0.1" letter-spacing="0.25">0%</text>
<line x1="292.3" y1="468.78" x2="295.3" y2="468.78" stroke="#231f20" stroke-width="0.8"/>
<text x="289.3" y="470.88" font-size="5.9" text-anchor="end" font-weight="normal" fill="#1a1a1a" stroke="#1a1a1a" stroke-width="0.1" letter-spacing="0.25">20%</text>
<line x1="292.3" y1="452.06" x2="295.3" y2="452.06" stroke="#231f20" stroke-width="0.8"/>
<text x="289.3" y="454.16" font-size="5.9" text-anchor="end" font-weight="normal" fill="#1a1a1a" stroke="#1a1a1a" stroke-width="0.1" letter-spacing="0.25">40%</text>
<line x1="292.3" y1="435.34" x2="295.3" y2="435.34" stroke="#231f20" stroke-width="0.8"/>
<text x="289.3" y="437.44" font-size="5.9" text-anchor="end" font-weight="normal" fill="#1a1a1a" stroke="#1a1a1a" stroke-width="0.1" letter-spacing="0.25">60%</text>
<line x1="292.3" y1="418.62" x2="295.3" y2="418.62" stroke="#231f20" stroke-width="0.8"/>
<text x="289.3" y="420.72" font-size="5.9" text-anchor="end" font-weight="normal" fill="#1a1a1a" stroke="#1a1a1a" stroke-width="0.1" letter-spacing="0.25">80%</text>
<line x1="292.3" y1="401.9" x2="295.3" y2="401.9" stroke="#231f20" stroke-width="0.8"/>
<text x="289.3" y="404" font-size="5.9" text-anchor="end" font-weight="normal" fill="#1a1a1a" stroke="#1a1a1a" stroke-width="0.1" letter-spacing="0.25">100%</text>
<line x1="298.3" y1="487.6" x2="298.3" y2="490.7" stroke="#231f20" stroke-width="0.8"/>
<text x="298.3" y="499.4" font-size="6" text-anchor="middle" font-weight="normal" fill="#1a1a1a" stroke="#1a1a1a" stroke-width="0.1" letter-spacing="0.3">0</text>
<line x1="308.74" y1="487.6" x2="308.74" y2="490.7" stroke="#231f20" stroke-width="0.8"/>
<text x="308.74" y="499.4" font-size="6" text-anchor="middle" font-weight="normal" fill="#1a1a1a" stroke="#1a1a1a" stroke-width="0.1" letter-spacing="0.3">7</text>
<line x1="319.17" y1="487.6" x2="319.17" y2="490.7" stroke="#231f20" stroke-width="0.8"/>
<text x="319.17" y="499.4" font-size="6" text-anchor="middle" font-weight="normal" fill="#1a1a1a" stroke="#1a1a1a" stroke-width="0.1" letter-spacing="0.3">14</text>
<line x1="329.61" y1="487.6" x2="329.61" y2="490.7" stroke="#231f20" stroke-width="0.8"/>
<text x="329.61" y="499.4" font-size="6" text-anchor="middle" font-weight="normal" fill="#1a1a1a" stroke="#1a1a1a" stroke-width="0.1" letter-spacing="0.3">21</text>
<line x1="340.05" y1="487.6" x2="340.05" y2="490.7" stroke="#231f20" stroke-width="0.8"/>
<text x="340.05" y="499.4" font-size="6" text-anchor="middle" font-weight="normal" fill="#1a1a1a" stroke="#1a1a1a" stroke-width="0.1" letter-spacing="0.3">28</text>
<line x1="350.49" y1="487.6" x2="350.49" y2="490.7" stroke="#231f20" stroke-width="0.8"/>
<text x="350.49" y="499.4" font-size="6" text-anchor="middle" font-weight="normal" fill="#1a1a1a" stroke="#1a1a1a" stroke-width="0.1" letter-spacing="0.3">35</text>
<line x1="360.92" y1="487.6" x2="360.92" y2="490.7" stroke="#231f20" stroke-width="0.8"/>
<text x="360.92" y="499.4" font-size="6" text-anchor="middle" font-weight="normal" fill="#1a1a1a" stroke="#1a1a1a" stroke-width="0.1" letter-spacing="0.3">42</text>
<line x1="371.36" y1="487.6" x2="371.36" y2="490.7" stroke="#231f20" stroke-width="0.8"/>
<text x="371.36" y="499.4" font-size="6" text-anchor="middle" font-weight="normal" fill="#1a1a1a" stroke="#1a1a1a" stroke-width="0.1" letter-spacing="0.3">49</text>
<line x1="381.8" y1="487.6" x2="381.8" y2="490.7" stroke="#231f20" stroke-width="0.8"/>
<text x="381.8" y="499.4" font-size="6" text-anchor="middle" font-weight="normal" fill="#1a1a1a" stroke="#1a1a1a" stroke-width="0.1" letter-spacing="0.3">56</text>
<text x="340.5" y="510.1" font-size="7.8" font-weight="normal" stroke="#1a1a1a" stroke-width="0.22" text-anchor="middle" fill="#1a1a1a" textLength="28.8" lengthAdjust="spacingAndGlyphs">Time (days)</text>
<text x="0" y="0" font-size="7.6" font-weight="normal" stroke="#1a1a1a" stroke-width="0.22" text-anchor="middle" fill="#1a1a1a" transform="translate(267.7,443.4) rotate(-90)" textLength="54.7" lengthAdjust="spacingAndGlyphs">Probability of recovery</text>
<text x="467.7" y="385.2" font-size="7.7" text-anchor="middle" font-weight="normal" fill="#1a1a1a" stroke="#1a1a1a" stroke-width="0.04" >Cycle 4</text>
<text x="467.7" y="394.6" font-size="7.6" text-anchor="middle" font-weight="normal" fill="#1a1a1a" stroke="#1a1a1a" stroke-width="0.04" >platelet recovery</text>
<path d="M426.3,431.4 H430.1 V429.7 H433.9 V427.7 H440.1 V426.4 H446.4 V425.2 H455.2 V424.6 H458.3 V423.35 H461.4 V422.1 H465.2 V420.1 H466.45 V418.85 H467.7 V417.6 H475.2 V417.6 H477.1 V415.75 H479 V413.9 H485.2 V413.9 H489 V412.1" fill="none" stroke="#1f3d72" stroke-width="1.35" stroke-linejoin="round"/>
<path d="M426.3,420.6 H448.1 V416.4 H451.4 V411.4 H467.7" fill="none" stroke="#f1c744" stroke-width="1.25"/>
<path d="M422.5,400 V487.6 H512.5" fill="none" stroke="#231f20" stroke-width="1.05"/>
<line x1="419.5" y1="485.5" x2="422.5" y2="485.5" stroke="#231f20" stroke-width="0.8"/>
<text x="416.5" y="487.6" font-size="5.9" text-anchor="end" font-weight="normal" fill="#1a1a1a" stroke="#1a1a1a" stroke-width="0.1" letter-spacing="0.25">0%</text>
<line x1="419.5" y1="468.78" x2="422.5" y2="468.78" stroke="#231f20" stroke-width="0.8"/>
<text x="416.5" y="470.88" font-size="5.9" text-anchor="end" font-weight="normal" fill="#1a1a1a" stroke="#1a1a1a" stroke-width="0.1" letter-spacing="0.25">20%</text>
<line x1="419.5" y1="452.06" x2="422.5" y2="452.06" stroke="#231f20" stroke-width="0.8"/>
<text x="416.5" y="454.16" font-size="5.9" text-anchor="end" font-weight="normal" fill="#1a1a1a" stroke="#1a1a1a" stroke-width="0.1" letter-spacing="0.25">40%</text>
<line x1="419.5" y1="435.34" x2="422.5" y2="435.34" stroke="#231f20" stroke-width="0.8"/>
<text x="416.5" y="437.44" font-size="5.9" text-anchor="end" font-weight="normal" fill="#1a1a1a" stroke="#1a1a1a" stroke-width="0.1" letter-spacing="0.25">60%</text>
<line x1="419.5" y1="418.62" x2="422.5" y2="418.62" stroke="#231f20" stroke-width="0.8"/>
<text x="416.5" y="420.72" font-size="5.9" text-anchor="end" font-weight="normal" fill="#1a1a1a" stroke="#1a1a1a" stroke-width="0.1" letter-spacing="0.25">80%</text>
<line x1="419.5" y1="401.9" x2="422.5" y2="401.9" stroke="#231f20" stroke-width="0.8"/>
<text x="416.5" y="404" font-size="5.9" text-anchor="end" font-weight="normal" fill="#1a1a1a" stroke="#1a1a1a" stroke-width="0.1" letter-spacing="0.25">100%</text>
<line x1="425.5" y1="487.6" x2="425.5" y2="490.7" stroke="#231f20" stroke-width="0.8"/>
<text x="425.5" y="499.4" font-size="6" text-anchor="middle" font-weight="normal" fill="#1a1a1a" stroke="#1a1a1a" stroke-width="0.1" letter-spacing="0.3">0</text>
<line x1="435.94" y1="487.6" x2="435.94" y2="490.7" stroke="#231f20" stroke-width="0.8"/>
<text x="435.94" y="499.4" font-size="6" text-anchor="middle" font-weight="normal" fill="#1a1a1a" stroke="#1a1a1a" stroke-width="0.1" letter-spacing="0.3">7</text>
<line x1="446.37" y1="487.6" x2="446.37" y2="490.7" stroke="#231f20" stroke-width="0.8"/>
<text x="446.37" y="499.4" font-size="6" text-anchor="middle" font-weight="normal" fill="#1a1a1a" stroke="#1a1a1a" stroke-width="0.1" letter-spacing="0.3">14</text>
<line x1="456.81" y1="487.6" x2="456.81" y2="490.7" stroke="#231f20" stroke-width="0.8"/>
<text x="456.81" y="499.4" font-size="6" text-anchor="middle" font-weight="normal" fill="#1a1a1a" stroke="#1a1a1a" stroke-width="0.1" letter-spacing="0.3">21</text>
<line x1="467.25" y1="487.6" x2="467.25" y2="490.7" stroke="#231f20" stroke-width="0.8"/>
<text x="467.25" y="499.4" font-size="6" text-anchor="middle" font-weight="normal" fill="#1a1a1a" stroke="#1a1a1a" stroke-width="0.1" letter-spacing="0.3">28</text>
<line x1="477.69" y1="487.6" x2="477.69" y2="490.7" stroke="#231f20" stroke-width="0.8"/>
<text x="477.69" y="499.4" font-size="6" text-anchor="middle" font-weight="normal" fill="#1a1a1a" stroke="#1a1a1a" stroke-width="0.1" letter-spacing="0.3">35</text>
<line x1="488.12" y1="487.6" x2="488.12" y2="490.7" stroke="#231f20" stroke-width="0.8"/>
<text x="488.12" y="499.4" font-size="6" text-anchor="middle" font-weight="normal" fill="#1a1a1a" stroke="#1a1a1a" stroke-width="0.1" letter-spacing="0.3">42</text>
<line x1="498.56" y1="487.6" x2="498.56" y2="490.7" stroke="#231f20" stroke-width="0.8"/>
<text x="498.56" y="499.4" font-size="6" text-anchor="middle" font-weight="normal" fill="#1a1a1a" stroke="#1a1a1a" stroke-width="0.1" letter-spacing="0.3">49</text>
<line x1="509" y1="487.6" x2="509" y2="490.7" stroke="#231f20" stroke-width="0.8"/>
<text x="509" y="499.4" font-size="6" text-anchor="middle" font-weight="normal" fill="#1a1a1a" stroke="#1a1a1a" stroke-width="0.1" letter-spacing="0.3">56</text>
<text x="467.7" y="510.1" font-size="7.8" font-weight="normal" stroke="#1a1a1a" stroke-width="0.22" text-anchor="middle" fill="#1a1a1a" textLength="28.8" lengthAdjust="spacingAndGlyphs">Time (days)</text>
<text x="0" y="0" font-size="7.6" font-weight="normal" stroke="#1a1a1a" stroke-width="0.22" text-anchor="middle" fill="#1a1a1a" transform="translate(394.9,443.4) rotate(-90)" textLength="54.7" lengthAdjust="spacingAndGlyphs">Probability of recovery</text>
<rect x="0.5" y="0.5" width="519" height="518" fill="none" stroke="#686868" stroke-width="1"/>
</svg>
</body></html>
